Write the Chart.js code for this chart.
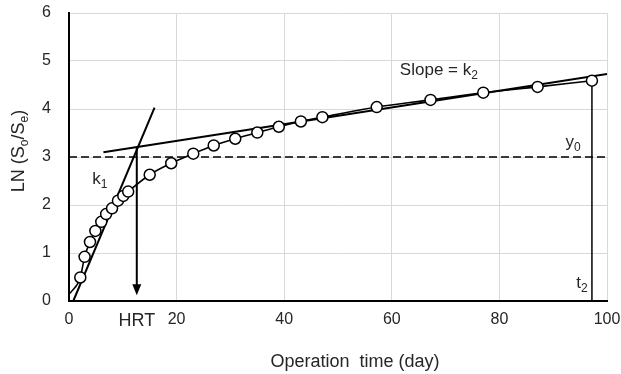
<!DOCTYPE html>
<html>
<head>
<meta charset="utf-8">
<script src="https://cdn.jsdelivr.net/npm/chart.js@4"></script>
<style>
  html, body { margin: 0; padding: 0; background: #fff; }
  #wrap { position: relative; width: 621px; height: 374px; }
</style>
</head>
<body>
<div id="wrap"><canvas id="chart"></canvas></div>
<script>
// measured points (operation day, LN(So/Se))
const pointDays = [2.1, 2.9, 3.9, 4.9, 6.0, 6.9, 8.0, 9.1, 10.1, 11.0, 15.0, 19.0, 23.1, 26.9, 30.9, 35.0, 39.0, 43.1, 47.1, 57.2, 67.2, 77.0, 87.1, 97.2];
const pointLn = [0.49, 0.92, 1.23, 1.46, 1.65, 1.81, 1.93, 2.09, 2.19, 2.28, 2.63, 2.87, 3.07, 3.24, 3.38, 3.51, 3.63, 3.74, 3.83, 4.04, 4.19, 4.34, 4.46, 4.59];
const curveStart = { x: 0.2, y: 0.16 };

// construction lines
const k1Line = [{ x: 0.8, y: 0 }, { x: 15.9, y: 4.03 }];
const k2Line = [{ x: 6.4, y: 3.1 }, { x: 100, y: 4.73 }];
const y0Line = [{ x: 0, y: 3 }, { x: 100, y: 3 }];
const t2Line = [{ x: 97.2, y: 0 }, { x: 97.2, y: 4.59 }];
const hrtArrow = [{ x: 12.6, y: 3.21 }, { x: 12.6, y: 0.28 }];
const hrtTip = { x: 12.6, y: 0.12 };

const xTicks = [0, 20, 40, 60, 80, 100];
const yTicks = [0, 1, 2, 3, 4, 5, 6];

const TEXT = '#262626';
const FONT = '"Liberation Sans", Arial, sans-serif';

const points = pointDays.map((d, i) => ({ x: d, y: pointLn[i] }));

function drawRich(ctx, x, y, parts, size, align) {
  const subSize = Math.round(size * 0.68);
  let total = 0;
  const widths = parts.map(([t, sub]) => {
    ctx.font = `${sub ? subSize : size}px ${FONT}`;
    const w = ctx.measureText(t).width;
    total += w;
    return w;
  });
  let cx = align === 'center' ? x - total / 2 : x;
  ctx.textAlign = 'left';
  ctx.textBaseline = 'alphabetic';
  parts.forEach(([t, sub], i) => {
    ctx.font = `${sub ? subSize : size}px ${FONT}`;
    ctx.fillText(t, cx, sub ? y + size * 0.22 : y);
    cx += widths[i];
  });
}

const notesPlugin = {
  id: 'notes',
  afterDatasetsDraw(chart) {
    const ctx = chart.ctx;
    const xs = chart.scales.x;
    const ys = chart.scales.y;
    const px = v => xs.getPixelForValue(v);
    const py = v => ys.getPixelForValue(v);

    ctx.save();
    // arrow head for HRT
    ctx.fillStyle = '#000';
    ctx.beginPath();
    ctx.moveTo(px(hrtTip.x), py(hrtTip.y));
    ctx.lineTo(px(hrtTip.x) - 4.5, py(hrtTip.y) - 11);
    ctx.lineTo(px(hrtTip.x) + 4.5, py(hrtTip.y) - 11);
    ctx.closePath();
    ctx.fill();

    ctx.fillStyle = TEXT;
    drawRich(ctx, px(61.5), py(4.7), [['Slope = k', 0], ['2', 1]], 17, 'left');
    drawRich(ctx, px(92.3), py(3.2), [['y', 0], ['0', 1]], 17, 'left');
    drawRich(ctx, px(94.3), py(0.27), [['t', 0], ['2', 1]], 17, 'left');
    drawRich(ctx, px(4.3), py(2.43), [['k', 0], ['1', 1]], 17, 'left');

    // HRT under the axis
    ctx.font = `18px ${FONT}`;
    ctx.textAlign = 'center';
    ctx.textBaseline = 'alphabetic';
    ctx.fillText('HRT', px(12.6), 326);

    // axis titles
    ctx.fillText('Operation  time (day)', 355, 367);
    ctx.translate(24, 151);
    ctx.rotate(-Math.PI / 2);
    drawRich(ctx, 0, 0, [['LN (S', 0], ['o', 1], ['/S', 0], ['e', 1], [')', 0]], 18, 'center');
    ctx.restore();
  },
};

const lineDs = (data, extra) => Object.assign({
  data,
  showLine: true,
  borderColor: '#000',
  borderWidth: 2,
  pointRadius: 0,
  pointHoverRadius: 0,
  fill: false,
}, extra);

new Chart(document.getElementById('chart'), {
  type: 'scatter',
  data: {
    datasets: [
      {
        data: points,
        showLine: false,
        pointRadius: 5.5,
        pointBackgroundColor: '#fff',
        pointBorderColor: '#000',
        pointBorderWidth: 1.5,
      },
      lineDs([curveStart, ...points], { borderWidth: 1.6, cubicInterpolationMode: 'monotone' }),
      lineDs(k1Line),
      lineDs(k2Line),
      lineDs(y0Line, { borderWidth: 1.3, borderDash: [8, 4] }),
      lineDs(t2Line, { borderWidth: 1.5 }),
      lineDs(hrtArrow),
    ],
  },
  options: {
    responsive: true,
    maintainAspectRatio: false,
    animation: false,
    layout: { padding: { left: 0, right: 14, top: 13, bottom: 0 } },
    plugins: { legend: { display: false }, tooltip: { enabled: false } },
    scales: {
      x: {
        type: 'linear',
        min: 0,
        max: 100,
        afterFit: s => { s.height = 73; s.paddingLeft = 0; s.paddingRight = 0; },
        afterBuildTicks: s => { s.ticks = xTicks.map(v => ({ value: v })); },
        grid: { color: '#d9d9d9', lineWidth: 1, drawTicks: false },
        border: { color: '#000', width: 2 },
        ticks: { color: TEXT, font: { family: FONT, size: 16 }, padding: 9, maxRotation: 0 },
      },
      y: {
        type: 'linear',
        min: 0,
        max: 6,
        afterFit: s => { s.width = 69; s.paddingTop = 0; s.paddingBottom = 0; },
        afterBuildTicks: s => { s.ticks = yTicks.map(v => ({ value: v })); },
        grid: { color: '#d9d9d9', lineWidth: 1, drawTicks: false },
        border: { color: '#000', width: 2 },
        ticks: { color: TEXT, font: { family: FONT, size: 16 }, padding: 18 },
      },
    },
  },
  plugins: [notesPlugin],
});
</script>
</body>
</html>
